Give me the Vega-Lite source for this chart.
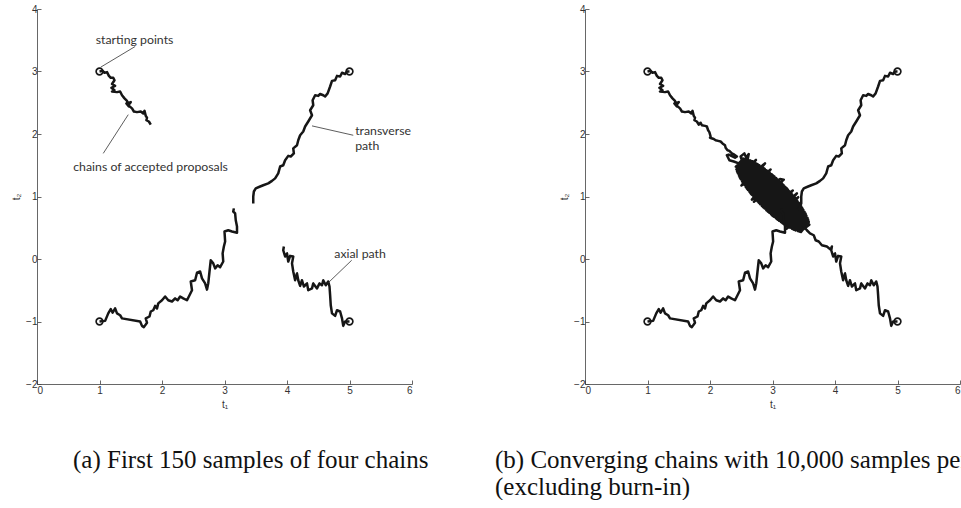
{
  "$schema": "https://vega.github.io/schema/vega-lite/v6.json",
  "padding": {"left": 11, "top": 4, "right": 0, "bottom": 0},
  "background": "white",
  "config": {
    "view": {"stroke": null},
    "axis": {
      "grid": false,
      "domainColor": "#404040",
      "domainWidth": 0.8,
      "tickColor": "#404040",
      "tickWidth": 0.8,
      "tickSize": -4,
      "labelFont": "Liberation Sans",
      "labelFontSize": 10,
      "labelColor": "#333333",
      "titleFont": "Liberation Sans",
      "titleFontSize": 10,
      "titleFontWeight": "normal",
      "titleColor": "#333333"
    },
    "title": {
      "font": "Liberation Serif",
      "fontSize": 25,
      "fontWeight": "normal",
      "color": "#111111",
      "orient": "bottom",
      "anchor": "start",
      "frame": "group",
      "baseline": "top",
      "lineHeight": 27
    }
  },
  "datasets": {
    "chains": [
      {"chain": "A", "stage": "first", "t1": 1.00, "t2": 3.00},
      {"chain": "A", "stage": "first", "t1": 1.05, "t2": 3.01},
      {"chain": "A", "stage": "first", "t1": 1.08, "t2": 2.98},
      {"chain": "A", "stage": "first", "t1": 1.12, "t2": 2.99},
      {"chain": "A", "stage": "first", "t1": 1.15, "t2": 2.93},
      {"chain": "A", "stage": "first", "t1": 1.18, "t2": 2.90},
      {"chain": "A", "stage": "first", "t1": 1.22, "t2": 2.90},
      {"chain": "A", "stage": "first", "t1": 1.24, "t2": 2.86},
      {"chain": "A", "stage": "first", "t1": 1.20, "t2": 2.80},
      {"chain": "A", "stage": "first", "t1": 1.25, "t2": 2.77},
      {"chain": "A", "stage": "first", "t1": 1.19, "t2": 2.74},
      {"chain": "A", "stage": "first", "t1": 1.24, "t2": 2.70},
      {"chain": "A", "stage": "first", "t1": 1.20, "t2": 2.68},
      {"chain": "A", "stage": "first", "t1": 1.28, "t2": 2.67},
      {"chain": "A", "stage": "first", "t1": 1.33, "t2": 2.68},
      {"chain": "A", "stage": "first", "t1": 1.36, "t2": 2.62},
      {"chain": "A", "stage": "first", "t1": 1.40, "t2": 2.57},
      {"chain": "A", "stage": "first", "t1": 1.44, "t2": 2.53},
      {"chain": "A", "stage": "first", "t1": 1.47, "t2": 2.44},
      {"chain": "A", "stage": "first", "t1": 1.43, "t2": 2.49},
      {"chain": "A", "stage": "first", "t1": 1.50, "t2": 2.51},
      {"chain": "A", "stage": "first", "t1": 1.46, "t2": 2.46},
      {"chain": "A", "stage": "first", "t1": 1.52, "t2": 2.41},
      {"chain": "A", "stage": "first", "t1": 1.55, "t2": 2.36},
      {"chain": "A", "stage": "first", "t1": 1.60, "t2": 2.35},
      {"chain": "A", "stage": "first", "t1": 1.66, "t2": 2.36},
      {"chain": "A", "stage": "first", "t1": 1.70, "t2": 2.33},
      {"chain": "A", "stage": "first", "t1": 1.72, "t2": 2.37},
      {"chain": "A", "stage": "first", "t1": 1.74, "t2": 2.29},
      {"chain": "A", "stage": "first", "t1": 1.76, "t2": 2.26},
      {"chain": "A", "stage": "first", "t1": 1.75, "t2": 2.22},
      {"chain": "A", "stage": "first", "t1": 1.79, "t2": 2.20},
      {"chain": "A", "stage": "first", "t1": 1.82, "t2": 2.15},
      {"chain": "A", "stage": "later", "t1": 1.85, "t2": 2.18},
      {"chain": "A", "stage": "later", "t1": 1.87, "t2": 2.14},
      {"chain": "A", "stage": "later", "t1": 1.92, "t2": 2.13},
      {"chain": "A", "stage": "later", "t1": 1.95, "t2": 2.12},
      {"chain": "A", "stage": "later", "t1": 1.97, "t2": 2.06},
      {"chain": "A", "stage": "later", "t1": 1.99, "t2": 2.03},
      {"chain": "A", "stage": "later", "t1": 2.01, "t2": 1.96},
      {"chain": "A", "stage": "later", "t1": 2.00, "t2": 1.94},
      {"chain": "A", "stage": "later", "t1": 2.06, "t2": 1.92},
      {"chain": "A", "stage": "later", "t1": 2.09, "t2": 1.90},
      {"chain": "A", "stage": "later", "t1": 2.13, "t2": 1.89},
      {"chain": "A", "stage": "later", "t1": 2.17, "t2": 1.88},
      {"chain": "A", "stage": "later", "t1": 2.20, "t2": 1.85},
      {"chain": "A", "stage": "later", "t1": 2.24, "t2": 1.82},
      {"chain": "A", "stage": "later", "t1": 2.25, "t2": 1.78},
      {"chain": "A", "stage": "later", "t1": 2.28, "t2": 1.74},
      {"chain": "A", "stage": "later", "t1": 2.31, "t2": 1.73},
      {"chain": "A", "stage": "later", "t1": 2.35, "t2": 1.69},
      {"chain": "A", "stage": "later", "t1": 2.39, "t2": 1.67},
      {"chain": "A", "stage": "later", "t1": 2.43, "t2": 1.64},
      {"chain": "A", "stage": "later", "t1": 2.40, "t2": 1.62},
      {"chain": "A", "stage": "later", "t1": 2.30, "t2": 1.67},
      {"chain": "A", "stage": "later", "t1": 2.27, "t2": 1.66},
      {"chain": "A", "stage": "later", "t1": 2.31, "t2": 1.58},
      {"chain": "A", "stage": "later", "t1": 2.38, "t2": 1.56},
      {"chain": "A", "stage": "later", "t1": 2.46, "t2": 1.53},
      {"chain": "A", "stage": "later", "t1": 2.51, "t2": 1.58},
      {"chain": "A", "stage": "later", "t1": 2.49, "t2": 1.64},
      {"chain": "A", "stage": "later", "t1": 2.55, "t2": 1.69},
      {"chain": "A", "stage": "later", "t1": 2.58, "t2": 1.62},
      {"chain": "A", "stage": "later", "t1": 2.62, "t2": 1.68},
      {"chain": "A", "stage": "later", "t1": 2.60, "t2": 1.58},
      {"chain": "A", "stage": "later", "t1": 2.56, "t2": 1.52},
      {"chain": "A", "stage": "later", "t1": 2.529, "t2": 1.609},
      {"chain": "A", "stage": "later", "t1": 2.423, "t2": 1.433},
      {"chain": "A", "stage": "later", "t1": 2.639, "t2": 1.579},
      {"chain": "A", "stage": "later", "t1": 2.464, "t2": 1.332},
      {"chain": "A", "stage": "later", "t1": 2.734, "t2": 1.532},
      {"chain": "A", "stage": "later", "t1": 2.514, "t2": 1.241},
      {"chain": "A", "stage": "later", "t1": 2.822, "t2": 1.479},
      {"chain": "A", "stage": "later", "t1": 2.88, "t2": 1.53},
      {"chain": "A", "stage": "later", "t1": 2.570, "t2": 1.156},
      {"chain": "A", "stage": "later", "t1": 2.905, "t2": 1.420},
      {"chain": "A", "stage": "later", "t1": 2.631, "t2": 1.075},
      {"chain": "A", "stage": "later", "t1": 2.984, "t2": 1.358},
      {"chain": "A", "stage": "later", "t1": 2.694, "t2": 0.997},
      {"chain": "A", "stage": "later", "t1": 3.061, "t2": 1.293},
      {"chain": "A", "stage": "later", "t1": 2.761, "t2": 0.922},
      {"chain": "A", "stage": "later", "t1": 3.134, "t2": 1.225},
      {"chain": "A", "stage": "later", "t1": 3.18, "t2": 1.27},
      {"chain": "A", "stage": "later", "t1": 3.12, "t2": 1.28},
      {"chain": "A", "stage": "later", "t1": 2.830, "t2": 0.850},
      {"chain": "A", "stage": "later", "t1": 3.205, "t2": 1.154},
      {"chain": "A", "stage": "later", "t1": 2.902, "t2": 0.781},
      {"chain": "A", "stage": "later", "t1": 3.273, "t2": 1.081},
      {"chain": "A", "stage": "later", "t1": 2.977, "t2": 0.714},
      {"chain": "A", "stage": "later", "t1": 3.338, "t2": 1.004},
      {"chain": "A", "stage": "later", "t1": 3.39, "t2": 1.05},
      {"chain": "A", "stage": "later", "t1": 3.055, "t2": 0.651},
      {"chain": "A", "stage": "later", "t1": 3.400, "t2": 0.925},
      {"chain": "A", "stage": "later", "t1": 3.136, "t2": 0.590},
      {"chain": "A", "stage": "later", "t1": 3.459, "t2": 0.842},
      {"chain": "A", "stage": "later", "t1": 3.221, "t2": 0.534},
      {"chain": "A", "stage": "later", "t1": 3.512, "t2": 0.754},
      {"chain": "A", "stage": "later", "t1": 3.312, "t2": 0.484},
      {"chain": "A", "stage": "later", "t1": 3.559, "t2": 0.659},
      {"chain": "A", "stage": "later", "t1": 3.413, "t2": 0.443},
      {"chain": "A", "stage": "later", "t1": 3.589, "t2": 0.549},
      {"chain": "A", "stage": "later", "t1": 3.441, "t2": 0.436},
      {"chain": "A", "stage": "later", "t1": 3.568, "t2": 0.634},
      {"chain": "A", "stage": "later", "t1": 3.336, "t2": 0.472},
      {"chain": "A", "stage": "later", "t1": 3.525, "t2": 0.731},
      {"chain": "A", "stage": "later", "t1": 3.243, "t2": 0.521},
      {"chain": "A", "stage": "later", "t1": 3.472, "t2": 0.821},
      {"chain": "A", "stage": "later", "t1": 3.157, "t2": 0.576},
      {"chain": "A", "stage": "later", "t1": 3.415, "t2": 0.905},
      {"chain": "A", "stage": "later", "t1": 3.075, "t2": 0.635},
      {"chain": "A", "stage": "later", "t1": 3.354, "t2": 0.985},
      {"chain": "A", "stage": "later", "t1": 2.996, "t2": 0.698},
      {"chain": "A", "stage": "later", "t1": 3.324, "t2": 1.096},
      {"chain": "A", "stage": "later", "t1": 2.921, "t2": 0.764},
      {"chain": "A", "stage": "later", "t1": 3.222, "t2": 1.136},
      {"chain": "A", "stage": "later", "t1": 2.848, "t2": 0.833},
      {"chain": "A", "stage": "later", "t1": 3.152, "t2": 1.207},
      {"chain": "A", "stage": "later", "t1": 2.778, "t2": 0.904},
      {"chain": "A", "stage": "later", "t1": 3.079, "t2": 1.276},
      {"chain": "A", "stage": "later", "t1": 2.711, "t2": 0.978},
      {"chain": "A", "stage": "later", "t1": 2.67, "t2": 0.95},
      {"chain": "A", "stage": "later", "t1": 3.004, "t2": 1.342},
      {"chain": "A", "stage": "later", "t1": 2.646, "t2": 1.055},
      {"chain": "A", "stage": "later", "t1": 2.925, "t2": 1.405},
      {"chain": "A", "stage": "later", "t1": 2.585, "t2": 1.135},
      {"chain": "A", "stage": "later", "t1": 2.843, "t2": 1.464},
      {"chain": "A", "stage": "later", "t1": 2.528, "t2": 1.219},
      {"chain": "A", "stage": "later", "t1": 2.757, "t2": 1.519},
      {"chain": "A", "stage": "later", "t1": 2.475, "t2": 1.309},
      {"chain": "A", "stage": "later", "t1": 2.664, "t2": 1.568},
      {"chain": "A", "stage": "later", "t1": 2.432, "t2": 1.406},
      {"chain": "A", "stage": "later", "t1": 2.559, "t2": 1.604},
      {"chain": "A", "stage": "later", "t1": 2.413, "t2": 1.476},
      {"chain": "A", "stage": "later", "t1": 2.601, "t2": 1.593},
      {"chain": "A", "stage": "later", "t1": 2.447, "t2": 1.368},
      {"chain": "A", "stage": "later", "t1": 2.735, "t2": 1.585},
      {"chain": "A", "stage": "later", "t1": 2.494, "t2": 1.274},
      {"chain": "A", "stage": "later", "t1": 2.790, "t2": 1.499},
      {"chain": "A", "stage": "later", "t1": 2.549, "t2": 1.187},
      {"chain": "A", "stage": "later", "t1": 2.875, "t2": 1.443},
      {"chain": "A", "stage": "later", "t1": 2.608, "t2": 1.105},
      {"chain": "A", "stage": "later", "t1": 2.955, "t2": 1.382},
      {"chain": "A", "stage": "later", "t1": 2.670, "t2": 1.026},
      {"chain": "A", "stage": "later", "t1": 3.032, "t2": 1.318},
      {"chain": "A", "stage": "later", "t1": 2.703, "t2": 0.917},
      {"chain": "A", "stage": "later", "t1": 3.107, "t2": 1.251},
      {"chain": "A", "stage": "later", "t1": 2.804, "t2": 0.877},
      {"chain": "A", "stage": "later", "t1": 3.179, "t2": 1.181},
      {"chain": "A", "stage": "later", "t1": 2.875, "t2": 0.807},
      {"chain": "A", "stage": "later", "t1": 3.248, "t2": 1.109},
      {"chain": "A", "stage": "later", "t1": 2.949, "t2": 0.739},
      {"chain": "A", "stage": "later", "t1": 3.314, "t2": 1.033},
      {"chain": "A", "stage": "later", "t1": 3.025, "t2": 0.674},
      {"chain": "A", "stage": "later", "t1": 3.411, "t2": 0.989},
      {"chain": "A", "stage": "later", "t1": 3.105, "t2": 0.612},
      {"chain": "A", "stage": "later", "t1": 3.437, "t2": 0.874},
      {"chain": "A", "stage": "later", "t1": 3.189, "t2": 0.555},
      {"chain": "A", "stage": "later", "t1": 3.493, "t2": 0.788},
      {"chain": "A", "stage": "later", "t1": 3.277, "t2": 0.502},
      {"chain": "A", "stage": "later", "t1": 3.542, "t2": 0.696},
      {"chain": "A", "stage": "later", "t1": 3.373, "t2": 0.456},
      {"chain": "A", "stage": "later", "t1": 3.581, "t2": 0.593},
      {"chain": "A", "stage": "later", "t1": 3.456, "t2": 0.433},
      {"chain": "A", "stage": "later", "t1": 3.573, "t2": 0.621},
      {"chain": "A", "stage": "later", "t1": 3.348, "t2": 0.467},
      {"chain": "A", "stage": "later", "t1": 3.531, "t2": 0.720},
      {"chain": "A", "stage": "later", "t1": 3.225, "t2": 0.485},
      {"chain": "A", "stage": "later", "t1": 3.479, "t2": 0.810},
      {"chain": "A", "stage": "later", "t1": 3.167, "t2": 0.569},
      {"chain": "A", "stage": "later", "t1": 3.423, "t2": 0.895},
      {"chain": "A", "stage": "later", "t1": 3.085, "t2": 0.628},
      {"chain": "A", "stage": "later", "t1": 3.362, "t2": 0.975},
      {"chain": "A", "stage": "later", "t1": 3.006, "t2": 0.690},
      {"chain": "A", "stage": "later", "t1": 3.298, "t2": 1.052},
      {"chain": "A", "stage": "later", "t1": 2.930, "t2": 0.756},
      {"chain": "A", "stage": "later", "t1": 3.231, "t2": 1.127},
      {"chain": "A", "stage": "later", "t1": 2.857, "t2": 0.824},
      {"chain": "A", "stage": "later", "t1": 3.161, "t2": 1.198},
      {"chain": "A", "stage": "later", "t1": 2.787, "t2": 0.895},
      {"chain": "A", "stage": "later", "t1": 3.089, "t2": 1.268},
      {"chain": "A", "stage": "later", "t1": 2.719, "t2": 0.969},
      {"chain": "A", "stage": "later", "t1": 3.013, "t2": 1.334},
      {"chain": "A", "stage": "later", "t1": 2.654, "t2": 1.045},
      {"chain": "A", "stage": "later", "t1": 2.969, "t2": 1.431},
      {"chain": "A", "stage": "later", "t1": 2.592, "t2": 1.125},
      {"chain": "A", "stage": "later", "t1": 2.854, "t2": 1.457},
      {"chain": "A", "stage": "later", "t1": 2.503, "t2": 1.177},
      {"chain": "A", "stage": "later", "t1": 2.768, "t2": 1.513},
      {"chain": "A", "stage": "later", "t1": 2.482, "t2": 1.297},
      {"chain": "A", "stage": "later", "t1": 2.676, "t2": 1.562},
      {"chain": "A", "stage": "later", "t1": 2.437, "t2": 1.393},
      {"chain": "A", "stage": "later", "t1": 2.573, "t2": 1.601},

      {"chain": "B", "stage": "first", "t1": 1.00, "t2": -1.00},
      {"chain": "B", "stage": "first", "t1": 1.09, "t2": -0.99},
      {"chain": "B", "stage": "first", "t1": 1.14, "t2": -0.87},
      {"chain": "B", "stage": "first", "t1": 1.18, "t2": -0.80},
      {"chain": "B", "stage": "first", "t1": 1.21, "t2": -0.86},
      {"chain": "B", "stage": "first", "t1": 1.25, "t2": -0.79},
      {"chain": "B", "stage": "first", "t1": 1.28, "t2": -0.87},
      {"chain": "B", "stage": "first", "t1": 1.33, "t2": -0.90},
      {"chain": "B", "stage": "first", "t1": 1.36, "t2": -0.95},
      {"chain": "B", "stage": "first", "t1": 1.65, "t2": -1.00},
      {"chain": "B", "stage": "first", "t1": 1.68, "t2": -1.07},
      {"chain": "B", "stage": "first", "t1": 1.71, "t2": -1.09},
      {"chain": "B", "stage": "first", "t1": 1.76, "t2": -1.02},
      {"chain": "B", "stage": "first", "t1": 1.74, "t2": -0.95},
      {"chain": "B", "stage": "first", "t1": 1.80, "t2": -0.92},
      {"chain": "B", "stage": "first", "t1": 1.82, "t2": -0.84},
      {"chain": "B", "stage": "first", "t1": 1.86, "t2": -0.82},
      {"chain": "B", "stage": "first", "t1": 1.89, "t2": -0.75},
      {"chain": "B", "stage": "first", "t1": 1.92, "t2": -0.79},
      {"chain": "B", "stage": "first", "t1": 1.94, "t2": -0.71},
      {"chain": "B", "stage": "first", "t1": 2.00, "t2": -0.66},
      {"chain": "B", "stage": "first", "t1": 2.05, "t2": -0.60},
      {"chain": "B", "stage": "first", "t1": 2.10, "t2": -0.66},
      {"chain": "B", "stage": "first", "t1": 2.16, "t2": -0.68},
      {"chain": "B", "stage": "first", "t1": 2.21, "t2": -0.63},
      {"chain": "B", "stage": "first", "t1": 2.25, "t2": -0.66},
      {"chain": "B", "stage": "first", "t1": 2.29, "t2": -0.60},
      {"chain": "B", "stage": "first", "t1": 2.34, "t2": -0.63},
      {"chain": "B", "stage": "first", "t1": 2.40, "t2": -0.66},
      {"chain": "B", "stage": "first", "t1": 2.44, "t2": -0.58},
      {"chain": "B", "stage": "first", "t1": 2.48, "t2": -0.50},
      {"chain": "B", "stage": "first", "t1": 2.46, "t2": -0.36},
      {"chain": "B", "stage": "first", "t1": 2.53, "t2": -0.34},
      {"chain": "B", "stage": "first", "t1": 2.56, "t2": -0.22},
      {"chain": "B", "stage": "first", "t1": 2.61, "t2": -0.20},
      {"chain": "B", "stage": "first", "t1": 2.64, "t2": -0.31},
      {"chain": "B", "stage": "first", "t1": 2.69, "t2": -0.39},
      {"chain": "B", "stage": "first", "t1": 2.72, "t2": -0.49},
      {"chain": "B", "stage": "first", "t1": 2.74, "t2": -0.39},
      {"chain": "B", "stage": "first", "t1": 2.76, "t2": -0.20},
      {"chain": "B", "stage": "first", "t1": 2.78, "t2": -0.02},
      {"chain": "B", "stage": "first", "t1": 2.82, "t2": -0.07},
      {"chain": "B", "stage": "first", "t1": 2.85, "t2": -0.15},
      {"chain": "B", "stage": "first", "t1": 2.89, "t2": -0.10},
      {"chain": "B", "stage": "first", "t1": 2.93, "t2": -0.13},
      {"chain": "B", "stage": "first", "t1": 2.98, "t2": -0.04},
      {"chain": "B", "stage": "first", "t1": 2.97, "t2": 0.09},
      {"chain": "B", "stage": "first", "t1": 2.99, "t2": 0.20},
      {"chain": "B", "stage": "first", "t1": 3.01, "t2": 0.28},
      {"chain": "B", "stage": "first", "t1": 3.00, "t2": 0.44},
      {"chain": "B", "stage": "first", "t1": 3.06, "t2": 0.46},
      {"chain": "B", "stage": "first", "t1": 3.12, "t2": 0.44},
      {"chain": "B", "stage": "first", "t1": 3.20, "t2": 0.42},
      {"chain": "B", "stage": "first", "t1": 3.20, "t2": 0.52},
      {"chain": "B", "stage": "first", "t1": 3.18, "t2": 0.62},
      {"chain": "B", "stage": "first", "t1": 3.17, "t2": 0.73},
      {"chain": "B", "stage": "first", "t1": 3.14, "t2": 0.76},
      {"chain": "B", "stage": "first", "t1": 3.15, "t2": 0.81},

      {"chain": "C", "stage": "first", "t1": 5.00, "t2": 3.00},
      {"chain": "C", "stage": "first", "t1": 4.96, "t2": 3.00},
      {"chain": "C", "stage": "first", "t1": 4.93, "t2": 2.96},
      {"chain": "C", "stage": "first", "t1": 4.88, "t2": 2.98},
      {"chain": "C", "stage": "first", "t1": 4.85, "t2": 2.92},
      {"chain": "C", "stage": "first", "t1": 4.80, "t2": 2.93},
      {"chain": "C", "stage": "first", "t1": 4.77, "t2": 2.86},
      {"chain": "C", "stage": "first", "t1": 4.72, "t2": 2.85},
      {"chain": "C", "stage": "first", "t1": 4.69, "t2": 2.76},
      {"chain": "C", "stage": "first", "t1": 4.65, "t2": 2.65},
      {"chain": "C", "stage": "first", "t1": 4.61, "t2": 2.60},
      {"chain": "C", "stage": "first", "t1": 4.58, "t2": 2.62},
      {"chain": "C", "stage": "first", "t1": 4.53, "t2": 2.64},
      {"chain": "C", "stage": "first", "t1": 4.50, "t2": 2.61},
      {"chain": "C", "stage": "first", "t1": 4.45, "t2": 2.62},
      {"chain": "C", "stage": "first", "t1": 4.41, "t2": 2.54},
      {"chain": "C", "stage": "first", "t1": 4.42, "t2": 2.46},
      {"chain": "C", "stage": "first", "t1": 4.37, "t2": 2.38},
      {"chain": "C", "stage": "first", "t1": 4.40, "t2": 2.30},
      {"chain": "C", "stage": "first", "t1": 4.34, "t2": 2.20},
      {"chain": "C", "stage": "first", "t1": 4.29, "t2": 2.12},
      {"chain": "C", "stage": "first", "t1": 4.26, "t2": 2.04},
      {"chain": "C", "stage": "first", "t1": 4.21, "t2": 1.98},
      {"chain": "C", "stage": "first", "t1": 4.18, "t2": 1.90},
      {"chain": "C", "stage": "first", "t1": 4.16, "t2": 1.82},
      {"chain": "C", "stage": "first", "t1": 4.10, "t2": 1.77},
      {"chain": "C", "stage": "first", "t1": 4.11, "t2": 1.69},
      {"chain": "C", "stage": "first", "t1": 4.06, "t2": 1.64},
      {"chain": "C", "stage": "first", "t1": 4.02, "t2": 1.65},
      {"chain": "C", "stage": "first", "t1": 3.97, "t2": 1.58},
      {"chain": "C", "stage": "first", "t1": 3.94, "t2": 1.50},
      {"chain": "C", "stage": "first", "t1": 3.89, "t2": 1.48},
      {"chain": "C", "stage": "first", "t1": 3.86, "t2": 1.37},
      {"chain": "C", "stage": "first", "t1": 3.81, "t2": 1.29},
      {"chain": "C", "stage": "first", "t1": 3.76, "t2": 1.25},
      {"chain": "C", "stage": "first", "t1": 3.70, "t2": 1.21},
      {"chain": "C", "stage": "first", "t1": 3.62, "t2": 1.18},
      {"chain": "C", "stage": "first", "t1": 3.57, "t2": 1.16},
      {"chain": "C", "stage": "first", "t1": 3.50, "t2": 1.13},
      {"chain": "C", "stage": "first", "t1": 3.47, "t2": 1.08},
      {"chain": "C", "stage": "first", "t1": 3.46, "t2": 1.00},
      {"chain": "C", "stage": "first", "t1": 3.46, "t2": 0.89},
      {"chain": "C", "stage": "later", "t1": 3.44, "t2": 0.83},
      {"chain": "C", "stage": "later", "t1": 3.40, "t2": 0.79},

      {"chain": "D", "stage": "first", "t1": 5.00, "t2": -1.00},
      {"chain": "D", "stage": "first", "t1": 4.93, "t2": -1.00},
      {"chain": "D", "stage": "first", "t1": 4.90, "t2": -1.07},
      {"chain": "D", "stage": "first", "t1": 4.88, "t2": -0.95},
      {"chain": "D", "stage": "first", "t1": 4.85, "t2": -0.84},
      {"chain": "D", "stage": "first", "t1": 4.80, "t2": -0.82},
      {"chain": "D", "stage": "first", "t1": 4.77, "t2": -0.91},
      {"chain": "D", "stage": "first", "t1": 4.72, "t2": -0.87},
      {"chain": "D", "stage": "first", "t1": 4.70, "t2": -0.74},
      {"chain": "D", "stage": "first", "t1": 4.69, "t2": -0.58},
      {"chain": "D", "stage": "first", "t1": 4.68, "t2": -0.44},
      {"chain": "D", "stage": "first", "t1": 4.66, "t2": -0.36},
      {"chain": "D", "stage": "first", "t1": 4.62, "t2": -0.42},
      {"chain": "D", "stage": "first", "t1": 4.58, "t2": -0.34},
      {"chain": "D", "stage": "first", "t1": 4.56, "t2": -0.42},
      {"chain": "D", "stage": "first", "t1": 4.52, "t2": -0.39},
      {"chain": "D", "stage": "first", "t1": 4.48, "t2": -0.47},
      {"chain": "D", "stage": "first", "t1": 4.42, "t2": -0.39},
      {"chain": "D", "stage": "first", "t1": 4.40, "t2": -0.47},
      {"chain": "D", "stage": "first", "t1": 4.34, "t2": -0.50},
      {"chain": "D", "stage": "first", "t1": 4.32, "t2": -0.39},
      {"chain": "D", "stage": "first", "t1": 4.27, "t2": -0.44},
      {"chain": "D", "stage": "first", "t1": 4.24, "t2": -0.34},
      {"chain": "D", "stage": "first", "t1": 4.21, "t2": -0.43},
      {"chain": "D", "stage": "first", "t1": 4.18, "t2": -0.34},
      {"chain": "D", "stage": "first", "t1": 4.16, "t2": -0.23},
      {"chain": "D", "stage": "first", "t1": 4.13, "t2": -0.34},
      {"chain": "D", "stage": "first", "t1": 4.10, "t2": -0.20},
      {"chain": "D", "stage": "first", "t1": 4.08, "t2": -0.07},
      {"chain": "D", "stage": "first", "t1": 4.10, "t2": 0.04},
      {"chain": "D", "stage": "first", "t1": 4.05, "t2": 0.05},
      {"chain": "D", "stage": "first", "t1": 4.02, "t2": -0.04},
      {"chain": "D", "stage": "first", "t1": 4.00, "t2": 0.09},
      {"chain": "D", "stage": "first", "t1": 3.97, "t2": 0.04},
      {"chain": "D", "stage": "first", "t1": 3.94, "t2": 0.14},
      {"chain": "D", "stage": "first", "t1": 3.95, "t2": 0.20},
      {"chain": "D", "stage": "later", "t1": 3.93, "t2": 0.15},
      {"chain": "D", "stage": "later", "t1": 3.87, "t2": 0.20},
      {"chain": "D", "stage": "later", "t1": 3.79, "t2": 0.22},
      {"chain": "D", "stage": "later", "t1": 3.74, "t2": 0.28},
      {"chain": "D", "stage": "later", "t1": 3.69, "t2": 0.30},
      {"chain": "D", "stage": "later", "t1": 3.66, "t2": 0.38},
      {"chain": "D", "stage": "later", "t1": 3.60, "t2": 0.41},
      {"chain": "D", "stage": "later", "t1": 3.55, "t2": 0.46},
      {"chain": "D", "stage": "later", "t1": 3.50, "t2": 0.52},
      {"chain": "D", "stage": "later", "t1": 3.47, "t2": 0.55}
    ],
    "starts": [
      {"t1": 1, "t2": 3},
      {"t1": 5, "t2": 3},
      {"t1": 1, "t2": -1},
      {"t1": 5, "t2": -1}
    ],
    "notes": [
      {"label": "starting points", "t1": 0.94, "t2": 3.50},
      {"label": "chains of accepted proposals", "t1": 0.58, "t2": 1.48},
      {"label": "transverse\npath", "t1": 5.09, "t2": 2.045},
      {"label": "axial path", "t1": 4.757, "t2": 0.08}
    ],
    "leaders": [
      {"t1": 1.57, "t2": 3.40, "t1end": 1.02, "t2end": 3.07},
      {"t1": 1.06, "t2": 1.69, "t1end": 1.46, "t2end": 2.31},
      {"t1": 5.06, "t2": 1.98, "t1end": 4.40, "t2end": 2.13},
      {"t1": 5.035, "t2": -0.02, "t1end": 4.66, "t2end": -0.38}
    ]
  },
  "spacing": 173,
  "bounds": "flush",
  "hconcat": [
    {
      "width": 375,
      "height": 375,
      "title": {"text": "(a) First 150 samples of four chains", "dx": 36, "offset": 39},
      "encoding": {
        "x": {"field": "t1", "type": "quantitative", "scale": {"domain": [0, 6], "nice": false},
              "axis": {"title": "t₁", "values": [0, 1, 2, 3, 4, 5, 6], "labelPadding": 5, "titlePadding": 4}},
        "y": {"field": "t2", "type": "quantitative", "scale": {"domain": [-2, 4], "nice": false},
              "axis": {"title": "t₂", "values": [-2, -1, 0, 1, 2, 3, 4], "labelPadding": 4, "titlePadding": 4}}
      },
      "layer": [
        {
          "data": {"name": "chains"},
          "transform": [{"filter": "datum.stage == 'first'"}],
          "mark": {"type": "line", "color": "#161616", "strokeWidth": 2.5, "strokeJoin": "round"},
          "encoding": {"detail": {"field": "chain"}, "order": {"value": null}}
        },
        {
          "data": {"name": "starts"},
          "mark": {"type": "point", "filled": false, "color": "#161616", "size": 45, "strokeWidth": 1.7, "opacity": 1}
        },
        {
          "data": {"name": "leaders"},
          "mark": {"type": "rule", "color": "#333333", "strokeWidth": 0.8},
          "encoding": {"x2": {"field": "t1end"}, "y2": {"field": "t2end"}}
        },
        {
          "data": {"name": "notes"},
          "mark": {"type": "text", "align": "left", "baseline": "middle", "font": "Lato", "fontSize": 12.3, "color": "#333333", "lineBreak": "\n", "lineHeight": 14.5},
          "encoding": {"text": {"field": "label"}}
        }
      ]
    },
    {
      "width": 375,
      "height": 375,
      "title": {"text": ["(b) Converging chains with 10,000 samples per chain", "(excluding burn-in)"], "dx": -90, "offset": 39},
      "encoding": {
        "x": {"field": "t1", "type": "quantitative", "scale": {"domain": [0, 6], "nice": false},
              "axis": {"title": "t₁", "values": [0, 1, 2, 3, 4, 5, 6], "labelPadding": 5, "titlePadding": 4}},
        "y": {"field": "t2", "type": "quantitative", "scale": {"domain": [-2, 4], "nice": false},
              "axis": {"title": "t₂", "values": [-2, -1, 0, 1, 2, 3, 4], "labelPadding": 4, "titlePadding": 4}}
      },
      "layer": [
        {
          "data": {"name": "chains"},
          "mark": {"type": "line", "color": "#161616", "strokeWidth": 2.5, "strokeJoin": "round"},
          "encoding": {"detail": {"field": "chain"}, "order": {"value": null}}
        },
        {
          "data": {"name": "starts"},
          "mark": {"type": "point", "filled": false, "color": "#161616", "size": 45, "strokeWidth": 1.7, "opacity": 1}
        }
      ]
    }
  ]
}
